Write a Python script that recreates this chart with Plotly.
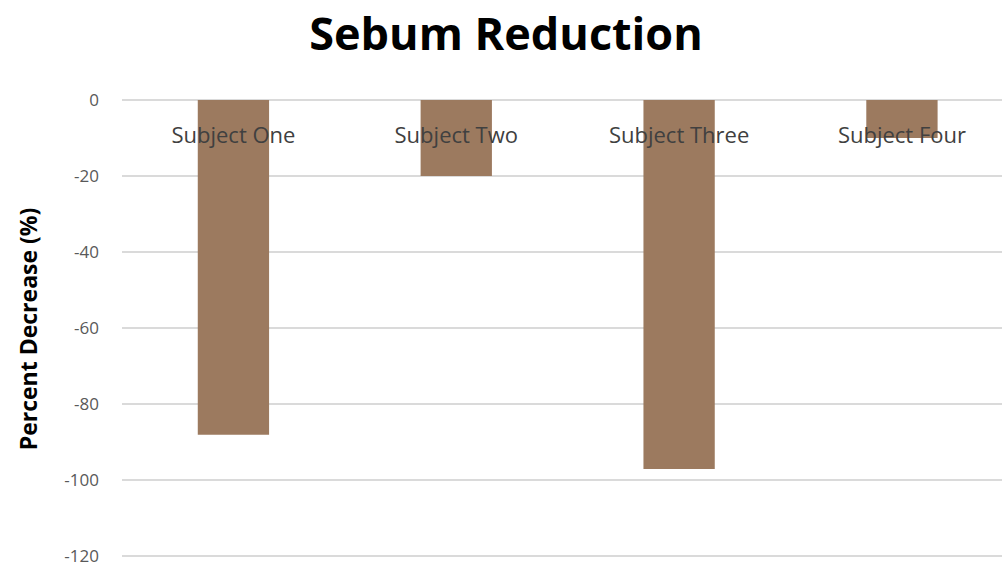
import plotly.graph_objects as go

subjects = ["Subject One", "Subject Two", "Subject Three", "Subject Four"]
percent_change = [-88, -20, -97, -10]
y_ticks = [0, -20, -40, -60, -80, -100, -120]

bar_color = "#9C7A5F"
grid_color = "#DADADA"
tick_color = "#595959"
category_color = "#404040"

fig = go.Figure(
    go.Bar(
        x=subjects,
        y=percent_change,
        marker=dict(color=bar_color, line=dict(width=0)),
        width=0.32,
    )
)

fig.update_layout(
    width=1002,
    height=568,
    margin=dict(l=122, r=0, t=100, b=10),
    paper_bgcolor="white",
    plot_bgcolor="white",
    showlegend=False,
    title=dict(
        text="<b>Sebum Reduction</b>",
        x=0.505,
        xanchor="center",
        y=0.94,
        yanchor="middle",
        font=dict(family="Open Sans", size=45, color="#000000"),
    ),
    font=dict(family="Open Sans", color=tick_color),
)

# Category labels sit just below the zero line, over the bars
fig.update_xaxes(
    range=[-0.5, 3.449],
    anchor="free",
    position=1,
    side="bottom",
    showgrid=False,
    showline=False,
    zeroline=False,
    ticks="",
    ticklabelstandoff=20,
    tickfont=dict(family="Open Sans", size=22, color=category_color),
    layer="above traces",
)

fig.update_yaxes(
    range=[-120.4, 0],
    tickvals=y_ticks,
    ticktext=[str(v) for v in y_ticks],
    showgrid=True,
    gridcolor=grid_color,
    gridwidth=1.5,
    zeroline=True,
    zerolinecolor=grid_color,
    zerolinewidth=1.5,
    showline=False,
    ticks="",
    ticklabelstandoff=22,
    tickfont=dict(family="Open Sans", size=17, color=tick_color),
    title=dict(
        text="<b>Percent Decrease (%)</b>",
        font=dict(family="Open Sans", size=23, color="#000000"),
        standoff=20,
    ),
)

fig.write_html("out.html")
